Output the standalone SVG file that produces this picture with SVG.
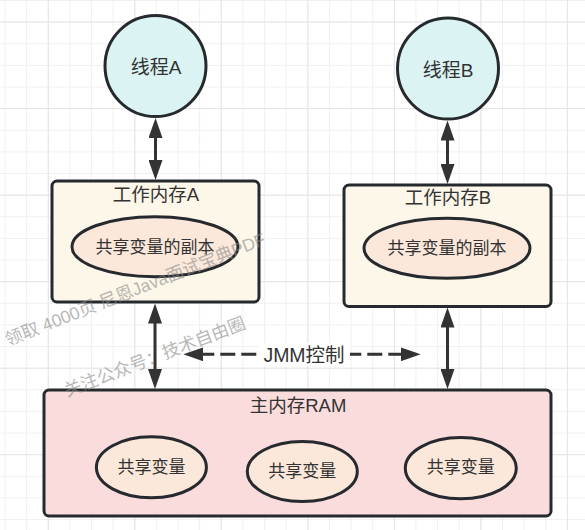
<svg xmlns="http://www.w3.org/2000/svg" width="585" height="530" viewBox="0 0 585 530">
<defs>
<pattern id="gmin" patternUnits="userSpaceOnUse" x="4.5" y="0" width="21.63" height="21.63">
<path d="M0 0.5H21.63M0.5 0V21.63" stroke="#f0f0f0" stroke-width="1" fill="none"/>
</pattern>
<pattern id="gmaj" patternUnits="userSpaceOnUse" x="47.8" y="21.6" width="86.52" height="86.52">
<path d="M0 0.5H86.52M0.5 0V86.52" stroke="#e5e5e5" stroke-width="1" fill="none"/>
</pattern>
<marker id="ah" viewBox="0 0 20 14" refX="10" refY="7" markerWidth="20" markerHeight="14" markerUnits="userSpaceOnUse" orient="auto-start-reverse">
<path d="M0,0 L20,7 L0,14 Z" fill="#333333"/>
</marker>
<style>
.node{stroke:#262a2e;stroke-width:3}
.thread{fill:#dbf3f3}
.work{fill:#fcf7e9}
.main{fill:#f9dcdb}
.var{fill:#fbe8da}
.t{font-family:"Liberation Sans","Noto Sans CJK SC",sans-serif;fill:#333333;text-anchor:middle;dominant-baseline:central}
.conn{stroke:#333333;stroke-width:3;fill:none;marker-start:url(#ah);marker-end:url(#ah)}
.wm{font-family:"Liberation Sans","Noto Sans CJK SC",sans-serif;font-size:17.5px;fill:#8a8a8a;opacity:0.6}
</style>
</defs>
<rect width="585" height="530" fill="#ffffff"/>
<rect width="585" height="530" fill="url(#gmin)"/>
<rect width="585" height="530" fill="url(#gmaj)"/>

<g id="threadA">
<circle class="node thread" cx="155.5" cy="66" r="50.5"/>
<text class="t" x="156" y="67" font-size="19">线程A</text>
</g>
<g id="threadB">
<circle class="node thread" cx="448" cy="68.5" r="50.5"/>
<text class="t" x="448" y="70" font-size="19">线程B</text>
</g>
<g id="workA">
<rect class="node work" x="52" y="181" width="207" height="121" rx="5"/>
<text class="t" x="156" y="194" font-size="18.5">工作内存A</text>
<ellipse class="node var" cx="155" cy="246.7" rx="83" ry="30"/>
<text class="t" x="155" y="247" font-size="17">共享变量的副本</text>
</g>
<g id="workB">
<rect class="node work" x="344" y="185" width="207" height="121.5" rx="5"/>
<text class="t" x="448" y="197" font-size="18.5">工作内存B</text>
<ellipse class="node var" cx="447" cy="248.3" rx="83" ry="30"/>
<text class="t" x="447" y="248.5" font-size="17">共享变量的副本</text>
</g>
<g id="mainMem">
<rect class="node main" x="44" y="390" width="507" height="126" rx="5"/>
<text class="t" x="298" y="405" font-size="18.5">主内存RAM</text>
<ellipse class="node var" cx="151.4" cy="467.3" rx="55" ry="30.5"/>
<text class="t" x="151.4" y="467" font-size="17">共享变量</text>
<ellipse class="node var" cx="302.3" cy="471.5" rx="55" ry="30"/>
<text class="t" x="302.3" y="471" font-size="17">共享变量</text>
<ellipse class="node var" cx="460.8" cy="468.2" rx="55.5" ry="30.6"/>
<text class="t" x="460.8" y="467.5" font-size="17">共享变量</text>
</g>

<g id="connectors">
<line class="conn" x1="155.5" y1="128" x2="155.5" y2="170"/>
<line class="conn" x1="447.5" y1="130.5" x2="447.5" y2="174"/>
<line class="conn" x1="155" y1="313.5" x2="155" y2="379"/>
<line class="conn" x1="447.5" y1="317.5" x2="447.5" y2="379"/>
<line class="conn" x1="193.3" y1="354.3" x2="410.7" y2="354.3" stroke-dasharray="15 6" stroke-dashoffset="-6"/>
<rect x="258" y="343" width="92" height="23" fill="#ffffff"/>
<text class="t" x="304" y="354.5" font-size="19.5">JMM控制</text>
</g>

<g id="watermark">
<text class="wm" transform="translate(8,346) rotate(-21.5)">领取 4000页 尼恩Java面试宝典PDF</text>
<text class="wm" transform="translate(67,397) rotate(-21)">关注公众号：技术自由圈</text>
</g>
</svg>
